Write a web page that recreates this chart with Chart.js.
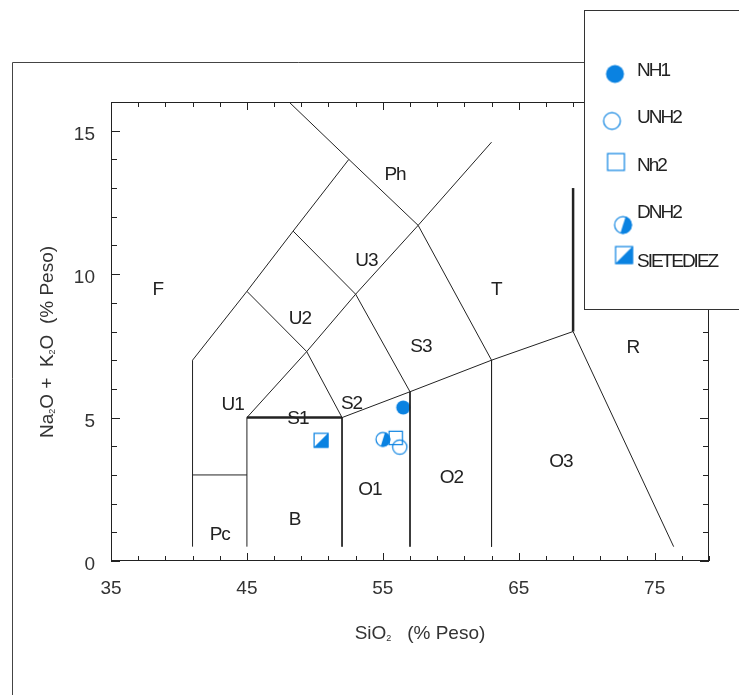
<!DOCTYPE html>
<html>
<head>
<meta charset="utf-8">
<script src="https://cdn.jsdelivr.net/npm/chart.js@4.4.0/dist/chart.umd.min.js"></script>
<style>
  html, body { margin: 0; padding: 0; background: #fff; }
</style>
</head>
<body>
<canvas id="tas" width="739" height="695"></canvas>
<script>
const xTickLabels = [35, 45, 55, 65, 75];
const yTickLabels = [0, 5, 10, 15];

const amostras = ['NH1', 'UNH2', 'Nh2', 'DNH2', 'SIETEDIEZ'];
const sio2 = [56.5, 56.25, 55.95, 55.0, 50.45];
const alcalis = [5.35, 3.97, 4.29, 4.24, 4.21];
const simbolos = ['circulo', 'circuloAberto', 'quadrado', 'circuloMeio', 'quadradoMeio'];

// limites dos campos (SiO2, Na2O+K2O)
const limites = [
  [[41, 0.5], [41, 7], [45, 9.4], [48.4, 11.5], [52.5, 14], [48.1, 16]],
  [[41, 3], [45, 3]],
  [[45, 0.5], [45, 5]],
  [[45, 5], [52, 5]],
  [[45, 5], [49.4, 7.3], [53, 9.3], [57.6, 11.7], [63, 14.6]],
  [[45, 9.4], [49.4, 7.3], [52, 5], [52, 0.5]],
  [[48.4, 11.5], [53, 9.3], [57, 5.9], [57, 0.5]],
  [[52.5, 14], [57.6, 11.7], [63, 7], [63, 0.5]],
  [[52, 5], [57, 5.9], [63, 7], [69, 8], [76.4, 0.5]],
  [[69, 8], [69, 13]]
];
const grossas = [3, 9];

const campos = ['F', 'Ph', 'U3', 'U2', 'T', 'S3', 'R', 'U1', 'S1', 'S2', 'O1', 'O2', 'O3', 'Pc', 'B'];
const camposX = [38.45, 55.9, 53.8, 48.9, 63.35, 57.8, 73.4, 43.95, 48.75, 52.7, 54.05, 60.05, 68.1, 43.0, 48.5];
const camposY = [9.47, 13.45, 10.45, 8.43, 9.47, 7.48, 7.45, 5.46, 4.97, 5.49, 2.49, 2.91, 3.47, 0.92, 1.44];

const AZUL = 'rgb(10,130,225)';
const FONTE = '"Liberation Sans", Arial, sans-serif';

function marcador(tipo, d) {
  const s = Math.ceil(d + 3);
  const c = document.createElement('canvas');
  c.width = s; c.height = s;
  const g = c.getContext('2d');
  const cx = s / 2, cy = s / 2, r = d / 2;
  g.strokeStyle = AZUL;
  g.fillStyle = AZUL;
  g.lineWidth = 1.2;
  if (tipo.startsWith('circulo')) {
    g.beginPath();
    g.arc(cx, cy, r, 0, Math.PI * 2);
    if (tipo === 'circulo') {
      g.fill();
    } else if (tipo === 'circuloMeio') {
      g.save();
      g.clip();
      g.beginPath();
      g.moveTo(cx + 0.35 * r, cy - r - 1);
      g.lineTo(cx + r + 1, cy - r - 1);
      g.lineTo(cx + r + 1, cy + r + 1);
      g.lineTo(cx - 0.35 * r, cy + r + 1);
      g.closePath();
      g.fill();
      g.restore();
      g.beginPath();
      g.arc(cx, cy, r - 0.6, 0, Math.PI * 2);
      g.stroke();
    } else {
      g.beginPath();
      g.arc(cx, cy, r - 0.6, 0, Math.PI * 2);
      g.stroke();
    }
  } else {
    const x0 = cx - r, y0 = cy - r;
    if (tipo === 'quadradoMeio') {
      g.beginPath();
      g.moveTo(x0 + d, y0);
      g.lineTo(x0 + d, y0 + d);
      g.lineTo(x0, y0 + d);
      g.closePath();
      g.fill();
    }
    g.strokeRect(x0 + 0.6, y0 + 0.6, d - 1.2, d - 1.2);
  }
  return c;
}

const tamPlot = [14, 15.5, 14.5, 15, 15];
const imgPlot = simbolos.map((t, i) => marcador(t, tamPlot[i]));
const imgLegenda = simbolos.map(t => marcador(t, 18));

function textoComSub(ctx, partes, x, y, rot) {
  ctx.save();
  ctx.translate(x, y);
  ctx.rotate(rot);
  const fn = '19px ' + FONTE, fs = '9px ' + FONTE;
  let w = 0;
  partes.forEach(p => { ctx.font = p.sub ? fs : fn; w += ctx.measureText(p.t).width; });
  let px = -w / 2;
  ctx.textAlign = 'left';
  ctx.textBaseline = 'alphabetic';
  ctx.fillStyle = '#333';
  partes.forEach(p => {
    ctx.font = p.sub ? fs : fn;
    ctx.fillText(p.t, px, p.sub ? 8.5 : 7);
    px += ctx.measureText(p.t).width;
  });
  ctx.restore();
}

const moldura = {
  id: 'moldura',
  beforeDatasetsDraw(chart) {
    const ctx = chart.ctx, a = chart.chartArea;
    const sx = chart.scales.x, sy = chart.scales.y;
    ctx.save();
    // moldura externa
    ctx.strokeStyle = '#444';
    ctx.lineWidth = 1;
    ctx.beginPath();
    ctx.moveTo(12.5, 695);
    ctx.lineTo(12.5, 62.5);
    ctx.lineTo(584, 62.5);
    ctx.stroke();
    // caixa do grafico
    ctx.strokeStyle = '#222';
    ctx.strokeRect(a.left + 0.5, a.top + 0.5, a.right - a.left - 1, a.bottom - a.top - 1);
    // marcas internas
    ctx.beginPath();
    for (let v = sx.min; v <= sx.max + 0.01; v += 2) {
      const px = Math.round(sx.getPixelForValue(v)) + 0.5;
      const len = xTickLabels.includes(v) ? 8 : 5;
      ctx.moveTo(px, a.bottom); ctx.lineTo(px, a.bottom - len);
      ctx.moveTo(px, a.top); ctx.lineTo(px, a.top + len);
    }
    for (let v = sy.min; v <= sy.max + 0.01; v += 1) {
      const py = Math.round(sy.getPixelForValue(v)) + 0.5;
      const len = yTickLabels.includes(v) ? 9 : 6;
      ctx.moveTo(a.left, py); ctx.lineTo(a.left + len, py);
      ctx.moveTo(a.right, py); ctx.lineTo(a.right - len, py);
    }
    ctx.stroke();
    // nomes dos campos
    ctx.fillStyle = '#222';
    ctx.font = '19px ' + FONTE;
    ctx.letterSpacing = '-1px';
    ctx.textAlign = 'center';
    ctx.textBaseline = 'middle';
    campos.forEach((c, i) => {
      ctx.fillText(c, sx.getPixelForValue(camposX[i]), sy.getPixelForValue(camposY[i]));
    });
    ctx.letterSpacing = '0px';
    ctx.restore();
  },
  afterDraw(chart) {
    const ctx = chart.ctx;
    ctx.save();
    // titulos dos eixos
    textoComSub(ctx, [{ t: 'SiO' }, { t: '2', sub: true }, { t: '   (% Peso)' }], 420, 632, 0);
    textoComSub(ctx, [{ t: 'Na' }, { t: '2', sub: true }, { t: 'O +  K' }, { t: '2', sub: true }, { t: 'O  (% Peso)' }], 46, 342, -Math.PI / 2);
    // legenda
    ctx.fillStyle = '#fff';
    ctx.fillRect(584, 10, 160, 300);
    ctx.strokeStyle = '#333';
    ctx.lineWidth = 1;
    ctx.strokeRect(584.5, 10.5, 170, 299);
    const marcas = [[615, 74], [612, 121], [616, 162], [623, 225], [624, 255]];
    const textos = [71, 118, 166, 213, 262];
    ctx.font = '19px ' + FONTE;
    ctx.letterSpacing = '-2px';
    ctx.fillStyle = '#222';
    ctx.textAlign = 'left';
    ctx.textBaseline = 'middle';
    amostras.forEach((n, i) => {
      const im = imgLegenda[i];
      ctx.drawImage(im, marcas[i][0] - im.width / 2, marcas[i][1] - im.height / 2);
      ctx.fillText(n, 637, textos[i]);
    });
    ctx.letterSpacing = '0px';
    ctx.restore();
  }
};

const datasets = limites.map((seg, i) => ({
  label: 'limite' + i,
  data: seg.map(p => ({ x: p[0], y: p[1] })),
  showLine: true,
  borderColor: '#222',
  borderWidth: grossas.includes(i) ? 2.5 : 1,
  pointRadius: 0,
  tension: 0
}));
amostras.forEach((n, i) => {
  datasets.push({
    label: n,
    data: [{ x: sio2[i], y: alcalis[i] }],
    pointStyle: imgPlot[i],
    pointRadius: 7,
    showLine: false
  });
});

const escalaTicks = {
  font: { family: FONTE, size: 19 },
  color: '#333',
  padding: 16,
  autoSkip: false,
  maxRotation: 0
};

new Chart(document.getElementById('tas'), {
  type: 'scatter',
  data: { datasets },
  options: {
    responsive: false,
    animation: false,
    layout: { padding: { top: 102, right: 30, left: 0, bottom: 0 } },
    scales: {
      x: {
        type: 'linear',
        min: 35,
        max: 79,
        afterBuildTicks: s => { s.ticks = xTickLabels.map(v => ({ value: v })); },
        afterFit: s => { s.height = 134; },
        grid: { display: false, drawTicks: false },
        border: { display: false },
        ticks: escalaTicks
      },
      y: {
        type: 'linear',
        min: 0,
        max: 16,
        afterBuildTicks: s => { s.ticks = yTickLabels.map(v => ({ value: v })); },
        afterFit: s => { s.width = 111; },
        grid: { display: false, drawTicks: false },
        border: { display: false },
        ticks: Object.assign({}, escalaTicks, { labelOffset: 4 })
      }
    },
    plugins: {
      legend: { display: false },
      tooltip: { enabled: false }
    }
  },
  plugins: [moldura]
});
</script>
</body>
</html>
